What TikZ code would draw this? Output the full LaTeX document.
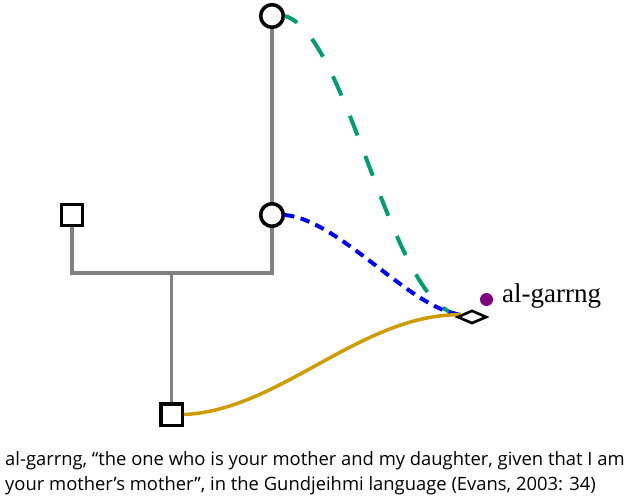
\documentclass[tikz,border=0pt]{standalone}
\usepackage{fontspec}
\setmainfont{Liberation Serif}
\newfontfamily\capfont{Open Sans}
\usetikzlibrary{shapes.geometric,calc}
\definecolor{kinline}{HTML}{808080}
\definecolor{greenpath}{HTML}{009E73}
\definecolor{bluepath}{HTML}{0000FF}
\definecolor{goldpath}{HTML}{D09B00}
\definecolor{dotpurple}{HTML}{800080}
\tikzset{
  female/.style={circle,draw=black,line width=3.4pt,fill=white,minimum size=22.5pt,inner sep=0pt},
  male/.style={rectangle,draw=black,line width=3.3pt,fill=white,minimum size=21.3pt,inner sep=0pt},
  ego/.style={diamond,draw=black,line width=2.5pt,fill=white,minimum width=29pt,minimum height=13pt,inner sep=0pt},
  kin/.style={draw=kinline,line width=3.2pt},
  greenlink/.style={draw=greenpath,line width=4pt,dash pattern=on 21pt off 22pt,dash phase=7pt},
  bluelink/.style={draw=bluepath,line width=4pt,dash pattern=on 9.5pt off 6.5pt},
  goldlink/.style={draw=goldpath,line width=3.5pt},
  caption/.style={anchor=base west,inner sep=0pt,font=\capfont\fontsize{18.4}{25}\selectfont},
}
\begin{document}
\begin{tikzpicture}[x=1pt,y=-1pt]
\useasboundingbox (0,0) rectangle (634,501);
% junctions
\coordinate (jl) at (72,273);
\coordinate (jc) at (171.5,273);
\coordinate (jr) at (272,273);
% person nodes
\node[female] (t) at (272,16) {};
\node[female] (m) at (272,215) {};
\node[male] (l) at (72,215) {};
\node[male] (b) at (171.5,414.5) {};
% kin lines
\draw[kin] (t) -- (m);
\draw[kin] (m) -- (jr) -- (jl) -- (l);
\draw[kin] (jc) -- (b);
% redraw nodes on top of lines
\node[female] at (t) {};
\node[female] at (m) {};
\node[male] at (l) {};
\node[male] at (b) {};
% ego diamond
\node[ego] (d) at (472,317) {};
\coordinate (e) at ($(d.west)!0.3!(d.north)$);
% paths
\draw[greenlink] (t.east) .. controls +(65,19) and +(-70,-3) .. (e);
\draw[bluelink] (m.east) .. controls +(55,5) and +(-50,-5) .. (e);
\draw[goldlink] (b.east) .. controls +(96,-4) and +(-100,-1) .. (e);
\node[ego] at (d) {};
% dot and label
\fill[dotpurple] (486.5,299.5) circle (6.5pt);
\node[anchor=base west,inner sep=0pt,font=\fontsize{27}{30}\selectfont] (lab) at (502,302) {al-garrng};
% caption
\node[caption] (c1) at (5,465.7) {al-garrng, “the one who is your mother and my daughter, given that I am};
\node[caption] (c2) at (5,490.7) {your mother’s mother”, in the Gundjeihmi language (Evans, 2003: 34)};
\end{tikzpicture}
\end{document}
